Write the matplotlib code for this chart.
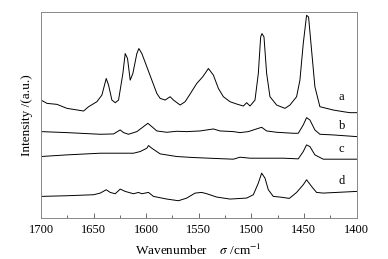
import matplotlib
matplotlib.use("Agg")
import matplotlib.pyplot as plt
import numpy as np

plt.rcParams['font.family'] = ['Liberation Serif', 'DejaVu Serif']
plt.rcParams['mathtext.fontset'] = 'stix'

# Pixel readings (3x zoom coords) converted to data below
def wn(px):
    return 1700 - (np.array(px) - 122) / 3.16

def inten(py):
    return (655 - np.array(py)) / 3.0

a_px = [122,140,170,200,250,265,290,305,318,325,335,345,355,368,375,382,390,398,410,416,425,440,455,470,480,495,510,520,540,555,568,590,608,625,640,655,670,690,710,730,740,750,765,775,782,786,792,800,810,830,855,870,890,900,910,920,926,935,945,960,1000,1030,1050,1070]
a_py = [300,310,313,325,333,320,305,285,235,255,300,308,300,220,160,175,240,220,160,145,160,200,240,280,295,300,290,300,315,305,285,250,230,205,225,265,290,305,312,318,308,318,300,220,110,100,110,220,290,315,325,315,290,240,130,45,50,150,260,320,330,335,338,338]

b_px = [122,200,300,340,355,360,370,385,410,430,443,455,470,500,530,560,600,640,660,700,720,745,760,785,800,830,880,895,910,920,930,945,960,1000,1070]
b_py = [395,398,403,402,393,390,398,403,395,380,370,380,393,397,394,395,393,387,393,395,398,395,390,382,393,397,400,400,375,353,360,390,403,405,410]

c_px = [122,200,300,400,420,440,445,455,480,530,580,650,700,720,750,800,850,895,910,920,930,945,970,1070]
c_py = [470,465,460,460,455,445,437,445,462,470,473,476,478,472,475,475,475,477,455,435,440,465,478,478]

d_px = [122,200,280,300,318,330,345,360,375,400,415,425,445,460,500,535,560,585,605,620,650,690,740,760,775,785,795,805,820,840,855,868,878,890,910,920,935,950,970,1070]
d_py = [590,588,585,580,570,578,582,568,575,582,578,582,578,590,598,603,595,580,578,582,592,598,595,585,550,520,535,570,590,592,594,596,588,578,555,540,560,578,580,575]

labels = ['a', 'b', 'c', 'd']
label_y_px = [290, 377, 447, 545]

fig = plt.figure(figsize=(3.88, 2.59), dpi=100)
ax = fig.add_axes([41/388, 1 - 218/259, (356.5 - 41)/388, (218 - 12)/259])

for px, py in [(a_px, a_py), (b_px, b_py), (c_px, c_py), (d_px, d_py)]:
    ax.plot(wn(px), inten(py), color='black', lw=0.7)

for lab, ly in zip(labels, label_y_px):
    ax.text(1414, inten(ly), lab, fontsize=9, ha='center', va='center')

ax.set_xlim(1700, 1400)
ax.set_ylim(0, inten(35))
ax.set_xticks([1700, 1650, 1600, 1550, 1500, 1450, 1400])
ax.set_xticks([1675, 1625, 1575, 1525, 1475, 1425], minor=True)
ax.tick_params(axis='x', direction='in', length=3.5, width=0.6, color='#555555', labelsize=9, pad=4)
ax.tick_params(axis='x', which='minor', direction='in', length=2.5, width=0.6, color='#555555')
ax.set_yticks([])
for s in ax.spines.values():
    s.set_color('#888888')
    s.set_linewidth(0.7)

ax.set_xlabel(r"Wavenumber    $\sigma$ /cm$^{-1}$", fontsize=9.5, labelpad=5)
ax.set_ylabel("Intensity /(a.u.)", fontsize=9.5, labelpad=6)

fig.savefig("out.png", dpi=100)
